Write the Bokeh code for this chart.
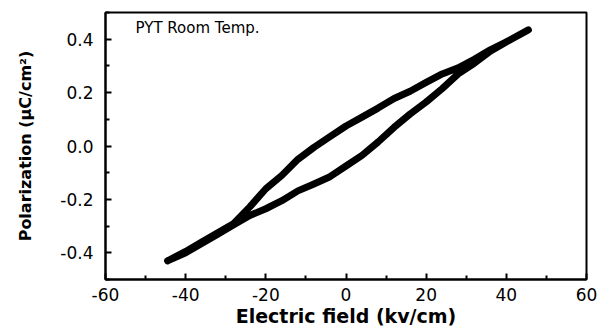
from bokeh.plotting import figure
from bokeh.models import Range1d, FixedTicker, NumeralTickFormatter, Label
from bokeh.embed import file_html
from bokeh.resources import INLINE

# P-E hysteresis loop, field in kV/cm, polarization in uC/cm^2
# branch traced with increasing field (lower side of the loop)
field_rising = [-44.5, -40, -36, -32, -28, -24, -20, -16, -12, -8, -4, 0,
                4, 8, 12, 16, 20, 24, 28, 32, 36, 40, 45.5]
pol_rising = [-0.43, -0.40, -0.365, -0.33, -0.295, -0.26, -0.235, -0.205,
              -0.168, -0.142, -0.115, -0.075, -0.035, 0.015, 0.07, 0.12,
              0.165, 0.215, 0.27, 0.31, 0.355, 0.39, 0.435]
# branch traced with decreasing field (upper side of the loop)
field_falling = [45.5, 40, 36, 32, 28, 24, 20, 16, 12, 8, 4, 0, -4, -8,
                 -12, -16, -20, -24, -28, -32, -36, -40, -44.5]
pol_falling = [0.435, 0.39, 0.36, 0.325, 0.293, 0.27, 0.238, 0.205, 0.178,
               0.142, 0.108, 0.075, 0.035, -0.005, -0.05, -0.11, -0.16,
               -0.228, -0.29, -0.325, -0.36, -0.395, -0.43]

x_ticks = [-60, -40, -20, 0, 20, 40, 60]
y_ticks = [-0.4, -0.2, 0.0, 0.2, 0.4]

p = figure(width=601, height=329, output_backend="svg", toolbar_location=None,
           x_range=Range1d(-60, 60), y_range=Range1d(-0.5, 0.5),
           min_border_left=105, min_border_right=15,
           min_border_top=12, min_border_bottom=50)
p.grid.visible = False
p.background_fill_color = "white"
p.border_fill_color = "white"
p.outline_line_color = "black"
p.outline_line_width = 2

p.xaxis.ticker = FixedTicker(ticks=x_ticks, minor_ticks=[-50, -30, -10, 10, 30, 50])
p.yaxis.ticker = FixedTicker(ticks=y_ticks, minor_ticks=[-0.5, -0.3, -0.1, 0.1, 0.3, 0.5])
p.xaxis.formatter = NumeralTickFormatter(format="0")
p.yaxis.formatter = NumeralTickFormatter(format="0.0")

for ax in (p.xaxis[0], p.yaxis[0]):
    ax.axis_line_width = 2
    ax.major_tick_in = 6
    ax.major_tick_out = 0
    ax.minor_tick_in = 4
    ax.minor_tick_out = 0
    ax.major_tick_line_width = 2
    ax.minor_tick_line_width = 2
    ax.major_label_text_font = "DejaVu Sans"
    ax.major_label_text_font_size = "17px"
    ax.major_label_text_color = "black"
    ax.axis_label_text_font = "DejaVu Sans"
    ax.axis_label_text_font_style = "bold"
    ax.axis_label_text_color = "black"

p.xaxis.axis_label = "Electric field (kv/cm)"
p.xaxis.axis_label_text_font_size = "19px"
p.xaxis.major_label_standoff = 8
p.xaxis.axis_label_standoff = 1
p.yaxis.axis_label = "Polarization (μC/cm²)"
p.yaxis.axis_label_text_font_size = "16px"
p.yaxis.major_label_standoff = 12
p.yaxis.axis_label_standoff = 22

loop_x = field_rising + field_falling
loop_y = pol_rising + pol_falling
p.line(loop_x, loop_y, line_color="black", line_width=7,
       line_cap="round", line_join="round")

p.add_layout(Label(x=-52.5, y=0.442, text="PYT Room Temp.",
                   text_font="DejaVu Sans", text_font_size="15px",
                   text_baseline="middle", text_color="black"))

open("out.html", "w").write(file_html(p, INLINE))
